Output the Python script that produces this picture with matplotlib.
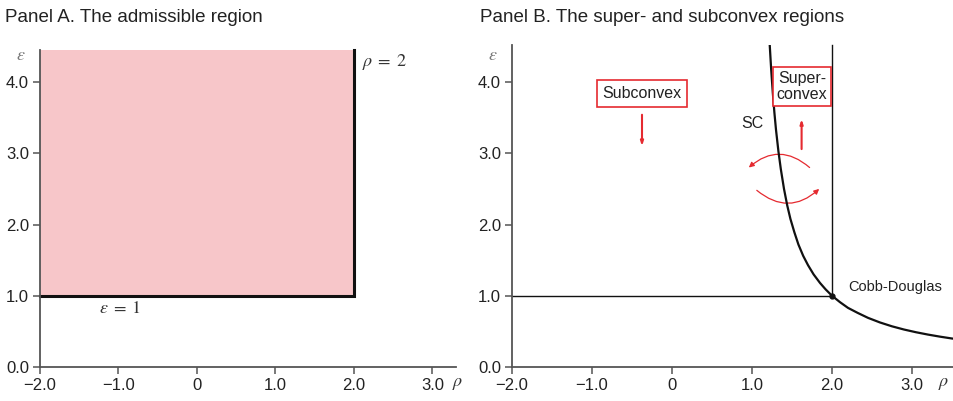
import matplotlib
matplotlib.use("Agg")
import matplotlib.pyplot as plt
from matplotlib.patches import FancyArrowPatch, Rectangle

plt.rcParams["font.family"] = ["Liberation Sans", "DejaVu Sans"]

# 数据
X_TICKS = [-2, -1, 0, 1, 2, 3]
X_LABELS = ["\u22122.0", "\u22121.0", "0", "1.0", "2.0", "3.0"]
Y_TICKS = [0, 1, 2, 3, 4]
Y_LABELS = ["0.0", "1.0", "2.0", "3.0", "4.0"]

# Panel A: admissible region
REGION_RHO = [-2.0, 2.0]
REGION_EPS_LOW = 1.0

# Panel B: SC curve
SC_RHO = [1.22, 1.24, 1.26, 1.28, 1.3, 1.33, 1.36, 1.4, 1.44, 1.48, 1.53, 1.58,
          1.64, 1.7, 1.77, 1.85, 1.92, 2.0, 2.1, 2.2, 2.32, 2.45, 2.6, 2.75,
          2.9, 3.05, 3.2, 3.35, 3.5, 3.55]
SC_EPS = [4.55, 4.17, 3.85, 3.57, 3.33, 3.03, 2.78, 2.5, 2.27, 2.08, 1.89, 1.72,
          1.56, 1.43, 1.30, 1.18, 1.09, 1.0, 0.91, 0.83, 0.76, 0.69, 0.625, 0.571,
          0.526, 0.488, 0.455, 0.426, 0.40, 0.392]
CD_POINT = (2.0, 1.0)

RED = "#e52a30"
PINK = "#f7c6c9"
AX_GRAY = "#555555"

fig = plt.figure(figsize=(9.54, 4.01), dpi=100)
axA = fig.add_axes([40 / 954, 1 - 367 / 401, 416 / 954, 317 / 401])
axB = fig.add_axes([512 / 954, 1 - 367 / 401, 442 / 954, 322 / 401])


def style(ax, xmax, ymax):
    ax.set_xlim(-2, xmax)
    ax.set_ylim(0, ymax)
    for s in ["top", "right"]:
        ax.spines[s].set_visible(False)
    for s in ["left", "bottom"]:
        ax.spines[s].set_color(AX_GRAY)
        ax.spines[s].set_linewidth(1.3)
    ax.set_xticks(X_TICKS)
    ax.set_xticklabels(X_LABELS)
    ax.set_yticks(Y_TICKS)
    ax.set_yticklabels(Y_LABELS)
    ax.tick_params(direction="out", length=5, width=1.1, color=AX_GRAY,
                   labelsize=12, labelcolor="#222222", pad=3)
    ax.patch.set_alpha(0)


style(axA, 3.3, 4.45)
style(axB, 3.525, 4.52)

# --- Panel A ---
top_a = axA.get_ylim()[1]
axA.add_patch(Rectangle((REGION_RHO[0], REGION_EPS_LOW), REGION_RHO[1] - REGION_RHO[0],
                        top_a - REGION_EPS_LOW, facecolor=PINK, edgecolor="none", zorder=1))
axA.plot([REGION_RHO[0], REGION_RHO[1], REGION_RHO[1]], [REGION_EPS_LOW, REGION_EPS_LOW, top_a],
         color="#111111", lw=2.2, solid_joinstyle="miter", zorder=2, clip_on=False)
axA.text(2.1, 4.28, r"$\rho\;=\;2$", fontsize=13, color="#333333",
         va="center", ha="left", math_fontfamily="stix")
axA.text(-0.98, 0.82, r"$\varepsilon\;=\;1$", fontsize=13, color="#333333",
         va="center", ha="center", math_fontfamily="stix")

# --- Panel B ---
top_b = axB.get_ylim()[1]
axB.plot([-2, CD_POINT[0]], [1, 1], color="#111111", lw=1.0)
axB.plot([CD_POINT[0], CD_POINT[0]], [1, top_b], color="#111111", lw=1.0, clip_on=False)
axB.plot(SC_RHO, SC_EPS, color="#111111", lw=1.6, clip_on=True)
axB.plot(*CD_POINT, "o", color="#111111", ms=3.5)
axB.text(2.2, 1.12, "Cobb-Douglas", fontsize=10.5, color="#222222", va="center", ha="left")
axB.text(1.0, 3.42, "SC", fontsize=11.5, color="#222222", va="center", ha="center")

axB.text(-0.375, 3.84, "Subconvex", fontsize=11.5, color="#222222", ha="center", va="center",
         bbox=dict(boxstyle="square,pad=0.35", fc="white", ec=RED, lw=1.2))
axB.text(1.625, 3.94, "Super-\nconvex", fontsize=11.5, color="#222222", ha="center", va="center",
         linespacing=1.1,
         bbox=dict(boxstyle="square,pad=0.25", fc="white", ec=RED, lw=1.2))

axB.annotate("", xy=(-0.375, 3.06), xytext=(-0.375, 3.58),
             arrowprops=dict(arrowstyle="-|>,head_length=0.25,head_width=0.08", color=RED, lw=1.5))
axB.annotate("", xy=(1.62, 3.52), xytext=(1.62, 3.02),
             arrowprops=dict(arrowstyle="-|>,head_length=0.25,head_width=0.08", color=RED, lw=1.5))

arc_top = FancyArrowPatch((1.72, 2.80), (0.96, 2.80), connectionstyle="arc3,rad=0.43",
                          arrowstyle="-|>,head_length=3,head_width=1.5", color=RED, lw=0.9,
                          shrinkA=0, shrinkB=0)
arc_bot = FancyArrowPatch((1.06, 2.48), (1.84, 2.50), connectionstyle="arc3,rad=0.43",
                          arrowstyle="-|>,head_length=3,head_width=1.5", color=RED, lw=0.9,
                          shrinkA=0, shrinkB=0)
axB.add_patch(arc_top)
axB.add_patch(arc_bot)

# axis letters
for x_pix in [21, 493]:
    fig.text(x_pix / 954, 1 - 55 / 401, r"$\varepsilon$", fontsize=13, color="#777777",
             ha="center", va="center", math_fontfamily="stix")
for x_pix in [458, 944]:
    fig.text(x_pix / 954, 1 - 383 / 401, r"$\rho$", fontsize=13, color="#333333",
             ha="center", va="center", math_fontfamily="stix")

fig.text(5 / 954, 1 - 17 / 401, "Panel A. The admissible region", fontsize=13.5,
         color="#222222", ha="left", va="center")
fig.text(480 / 954, 1 - 17 / 401, "Panel B. The super- and subconvex regions", fontsize=13.5,
         color="#222222", ha="left", va="center")

fig.savefig("out.png", dpi=100)
